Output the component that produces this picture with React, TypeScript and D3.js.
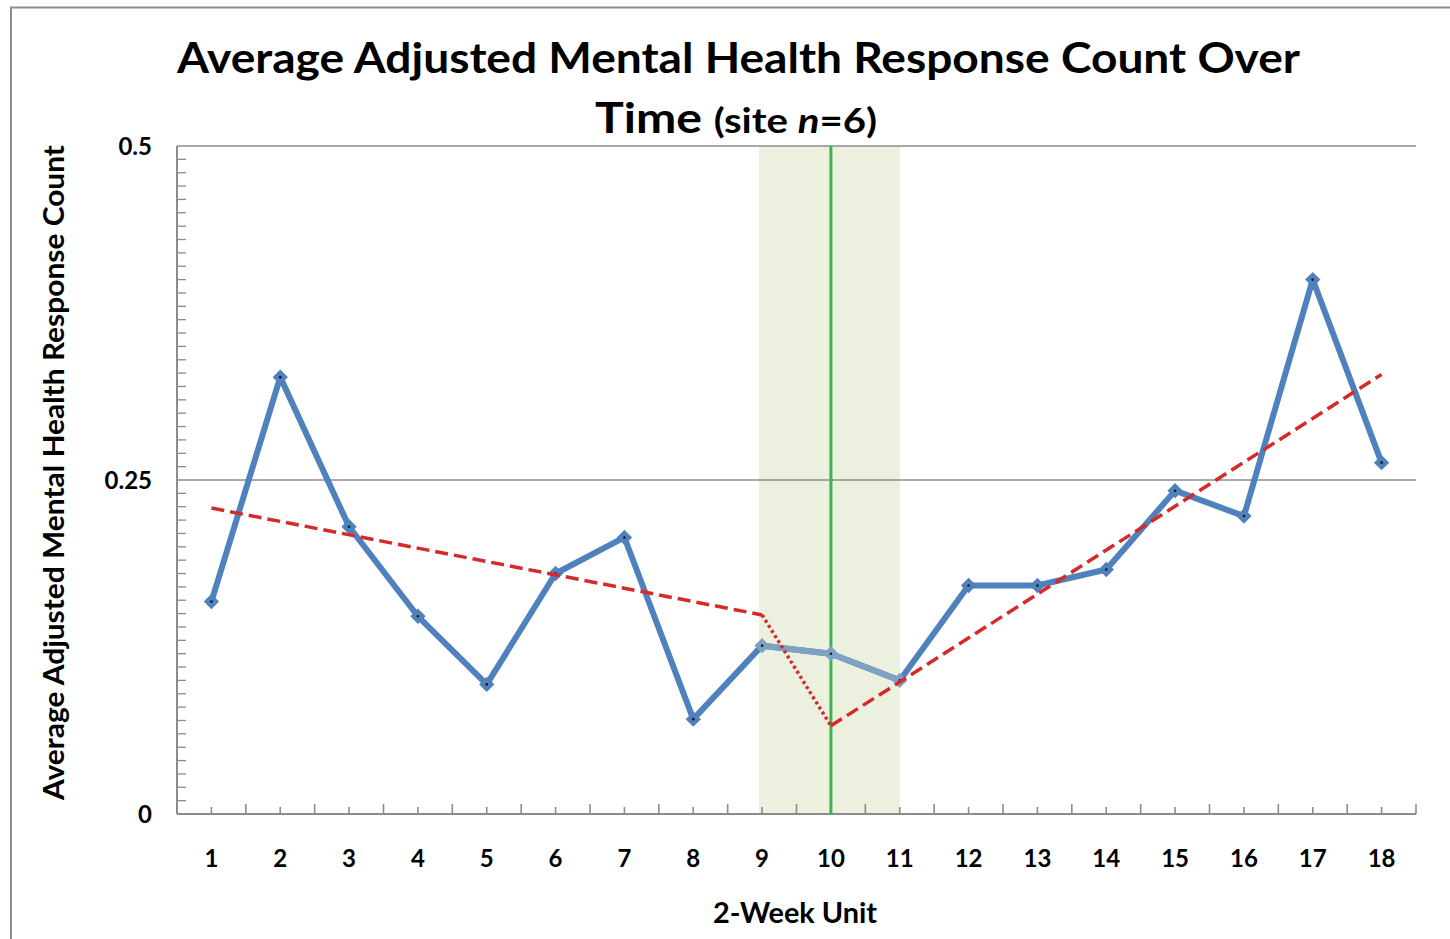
import React from "react";
import * as d3 from "d3";

const categories = [1, 2, 3, 4, 5, 6, 7, 8, 9, 10, 11, 12, 13, 14, 15, 16, 17, 18];
const values = [0.159, 0.327, 0.215, 0.148, 0.097, 0.18, 0.207, 0.071, 0.126, 0.12, 0.1, 0.171, 0.171, 0.183, 0.242, 0.223, 0.4, 0.263];
const trendPre = [{ x: 1, y: 0.229 }, { x: 9, y: 0.149 }];
const trendDrop = [{ x: 9, y: 0.149 }, { x: 10, y: 0.066 }];
const trendPost = [{ x: 10, y: 0.066 }, { x: 18, y: 0.329 }];
const bandRange = [9, 11];
const interventionAt = 10;
const yTicks = [0, 0.25, 0.5];
const yTickLabels = ["0", "0.25", "0.5"];

const W = 1450;
const H = 939;
const left = 177, right = 1416, top = 146, bottom = 814;
const FONT = "Lato, 'Open Sans', sans-serif";

export default function App() {
  const xb = d3.scaleBand<number>().domain(categories).range([left, right]).padding(0);
  const cx = (c: number) => (xb(c) as number) + xb.bandwidth() / 2;
  const y = d3.scaleLinear().domain([0, 0.5]).range([bottom, top]);
  const line = d3.line<{ x: number; y: number }>().x((d) => cx(d.x)).y((d) => y(d.y));
  const pts = categories.map((c, i) => ({ x: c, y: values[i] }));
  const inBand = pts.filter((p) => p.x >= bandRange[0] && p.x <= bandRange[1]);
  const minorY = d3.range(1, 50).map((i) => i / 100).filter((v) => Math.abs(v - 0.25) > 1e-9);
  const diamond = d3.symbol().type(d3.symbolDiamond2).size(150)() as string;

  return (
    <svg width={W} height={H} style={{ position: "absolute", left: 0, top: 0 }} fontFamily={FONT}>
      <rect x={0} y={0} width={W} height={H} fill="#fff" />
      <rect x={11} y={7.5} width={W + 10} height={H + 10} fill="none" stroke="#8c8c8c" strokeWidth={2} />
      {/* title */}
      <text x={738.5} y={73} textAnchor="middle" fontSize={42} fontWeight={700} fill="#000"
        textLength={1123} lengthAdjust="spacingAndGlyphs">
        Average Adjusted Mental Health Response Count Over
      </text>
      <text x={736} y={133} textAnchor="middle" fontWeight={700} fill="#000" textLength={282} lengthAdjust="spacingAndGlyphs">
        <tspan fontSize={42}>Time </tspan>
        <tspan fontSize={35}>(site </tspan>
        <tspan fontSize={35} fontStyle="italic">n</tspan>
        <tspan fontSize={35}>=6)</tspan>
      </text>
      {/* band */}
      <rect x={cx(bandRange[0]) - 3} y={top} width={cx(bandRange[1]) - cx(bandRange[0]) + 3} height={bottom - top} fill="#ebf1de" />
      {/* gridlines */}
      {yTicks.filter((t) => t > 0).map((t) => (
        <line key={t} x1={left} x2={right} y1={y(t)} y2={y(t)} stroke="#8c8c8c" strokeWidth={1.5} />
      ))}
      {/* axes */}
      <line x1={left} x2={left} y1={top} y2={bottom} stroke="#8c8c8c" strokeWidth={2} />
      <line x1={left} x2={right} y1={bottom} y2={bottom} stroke="#8c8c8c" strokeWidth={2} />
      {minorY.map((v) => (
        <line key={v} x1={left} x2={left + 9} y1={y(v)} y2={y(v)} stroke="#8c8c8c" strokeWidth={1.3} />
      ))}
      {categories.map((c) => (
        <line key={"b" + c} x1={(xb(c) as number) + xb.bandwidth()} x2={(xb(c) as number) + xb.bandwidth()} y1={bottom} y2={bottom - 10} stroke="#8c8c8c" strokeWidth={1.6} />
      ))}
      {categories.map((c) => (
        <line key={"m" + c} x1={cx(c)} x2={cx(c)} y1={bottom} y2={bottom - 7} stroke="#8c8c8c" strokeWidth={1.6} />
      ))}
      {/* intervention line */}
      <line x1={cx(interventionAt)} x2={cx(interventionAt)} y1={top} y2={bottom} stroke="#3cb44b" strokeWidth={3} />
      {/* data line */}
      <path d={line(pts) as string} fill="none" stroke="#4f81bd" strokeWidth={6} strokeLinejoin="round" />
      <path d={line(inBand) as string} fill="none" stroke="#7da2c3" strokeWidth={6} strokeLinejoin="round" />
      {pts.map((p) => (
        <g key={p.x} transform={`translate(${cx(p.x)},${y(p.y)})`}>
          <path d={diamond} fill={p.x >= bandRange[0] && p.x <= bandRange[1] ? "#7da2c3" : "#4f81bd"} />
          <circle r={1.3} fill="#1a1a1a" />
        </g>
      ))}
      {/* trend lines */}
      <path d={line(trendPre) as string} fill="none" stroke="#d42a2a" strokeWidth={3.5} strokeDasharray="13,6" />
      <path d={line(trendDrop) as string} fill="none" stroke="#d42a2a" strokeWidth={3.5} strokeDasharray="3,3" />
      <path d={line(trendPost) as string} fill="none" stroke="#d42a2a" strokeWidth={3.5} strokeDasharray="13,6" />
      {/* tick labels */}
      {yTicks.map((t, i) => (
        <text key={t} x={152} y={y(t) + 9} textAnchor="end" fontSize={24} fontWeight={700} fill="#000">
          {yTickLabels[i]}
        </text>
      ))}
      {categories.map((c) => (
        <text key={c} x={cx(c)} y={867} textAnchor="middle" fontSize={24} fontWeight={700} fill="#000">
          {c}
        </text>
      ))}
      <text x={795} y={923} textAnchor="middle" fontSize={28} fontWeight={700} fill="#000" textLength={164} lengthAdjust="spacingAndGlyphs">2-Week Unit</text>
      <text transform={`translate(64,${472.5}) rotate(-90)`} textAnchor="middle" fontSize={29} fontWeight={700} fill="#000"
        textLength={655} lengthAdjust="spacingAndGlyphs">
        Average Adjusted Mental Health Response Count
      </text>
    </svg>
  );
}
